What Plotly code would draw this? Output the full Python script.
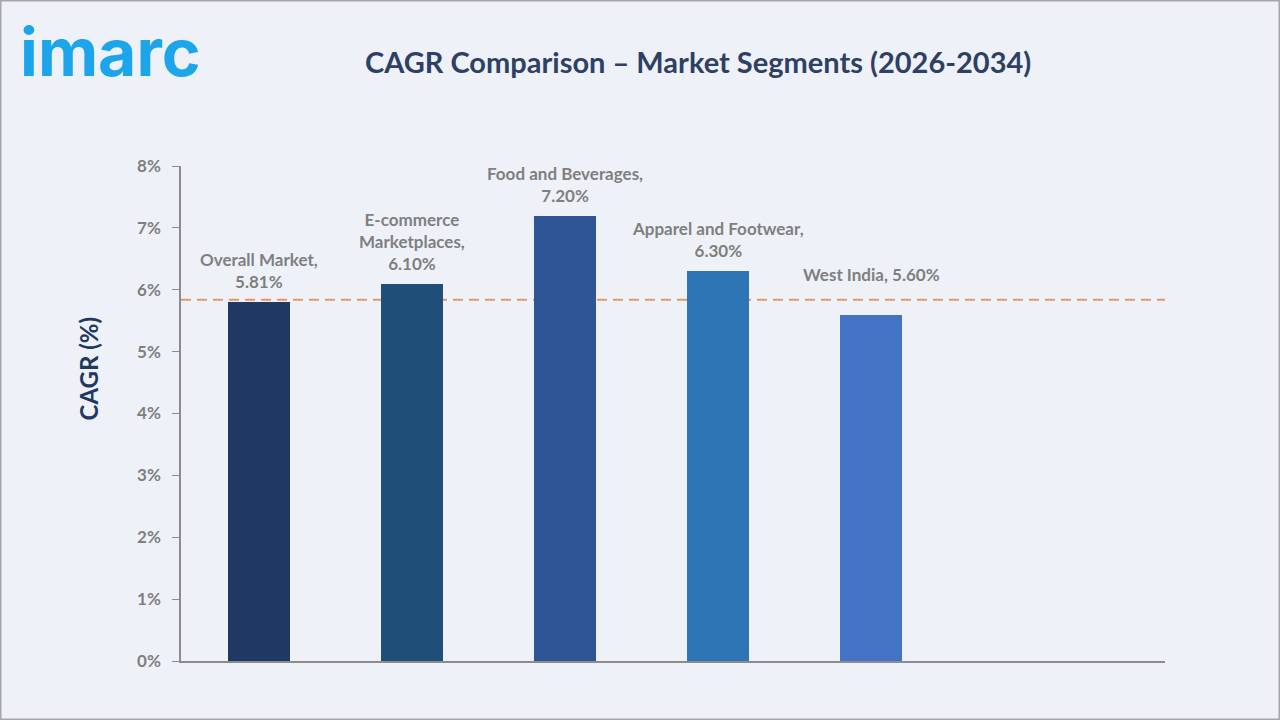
import plotly.graph_objects as go

categories = ["Overall Market", "E-commerce Marketplaces", "Food and Beverages", "Apparel and Footwear", "West India"]
label_texts = ["Overall Market,<br>5.81%", "E-commerce<br>Marketplaces,<br>6.10%", "Food and Beverages,<br>7.20%",
               "Apparel and Footwear,<br>6.30%", "West India, 5.60%"]
cagr_values = [5.81, 6.10, 7.20, 6.30, 5.60]
reference_line = 5.84
bar_colors = ["#203864", "#1F4E79", "#2F5597", "#2E75B6", "#4472C4"]
y_ticks = [0, 1, 2, 3, 4, 5, 6, 7, 8]
y_tick_labels = [f"{v}%" for v in y_ticks]

FONT = "Lato"
GRAY = "#7F7F7F"
xpos = list(range(len(categories)))

fig = go.Figure()
fig.add_trace(go.Bar(x=xpos, y=cagr_values, width=0.405, marker=dict(color=bar_colors, line=dict(width=0)),
                     hoverinfo="skip", showlegend=False))

fig.add_shape(type="line", xref="x", yref="y", x0=-0.51, x1=5.95, y0=reference_line, y1=reference_line,
              line=dict(color="#E8965F", width=2, dash="10px,6px"), layer="below")

label_shifts = [8, 8, 8, 8, 28]
for x, v, t, s in zip(xpos, cagr_values, label_texts, label_shifts):
    fig.add_annotation(x=x, y=v, text=t, showarrow=False, yanchor="bottom", yshift=s,
                       font=dict(family=FONT, size=17, color=GRAY, weight="bold"), align="center")

fig.add_annotation(xref="paper", yref="paper", x=-0.094, y=0.59, text="CAGR (%)", textangle=-90, showarrow=False,
                   font=dict(family=FONT, size=24, color="#203864", weight="bold"), xanchor="center", yanchor="middle")

fig.add_annotation(xref="paper", yref="paper", x=0.525, y=1.212, text="CAGR Comparison – Market Segments (2026-2034)",
                   showarrow=False, font=dict(family=FONT, size=29, color="#2E4063", weight="bold"),
                   xanchor="center", yanchor="middle")

fig.add_annotation(xref="paper", yref="paper", x=-0.166, y=1.23, text="imarc", showarrow=False,
                   font=dict(family="Inter", size=66, color="#1DA5EC", weight="bold"),
                   xanchor="left", yanchor="middle")

# frame border
fig.add_shape(type="rect", xref="paper", yref="paper", x0=-180.5/984, x1=1098.5/984, y0=-58.5/495, y1=660.5/495,
              line=dict(color="#A6A6A6", width=2), fillcolor="rgba(0,0,0,0)")

fig.update_layout(
    width=1280, height=720,
    margin=dict(l=181, r=115, t=166, b=59),
    paper_bgcolor="#EEF2F8", plot_bgcolor="#EEF2F8",
    xaxis=dict(range=[-0.51, 5.92], showticklabels=False, showgrid=False, zeroline=False,
               showline=True, linecolor="#8C8C8C", linewidth=1.5, ticks="", fixedrange=True),
    yaxis=dict(range=[0, 8], tickvals=y_ticks, ticktext=y_tick_labels, showgrid=False, zeroline=False,
               showline=True, linecolor="#8C8C8C", linewidth=1.5, ticks="outside", ticklen=7,
               tickcolor="#8C8C8C", ticklabelstandoff=8,
               tickfont=dict(family=FONT, size=17, color=GRAY, weight="bold"), fixedrange=True),
    bargap=0,
)

fig.write_html("out.html")
